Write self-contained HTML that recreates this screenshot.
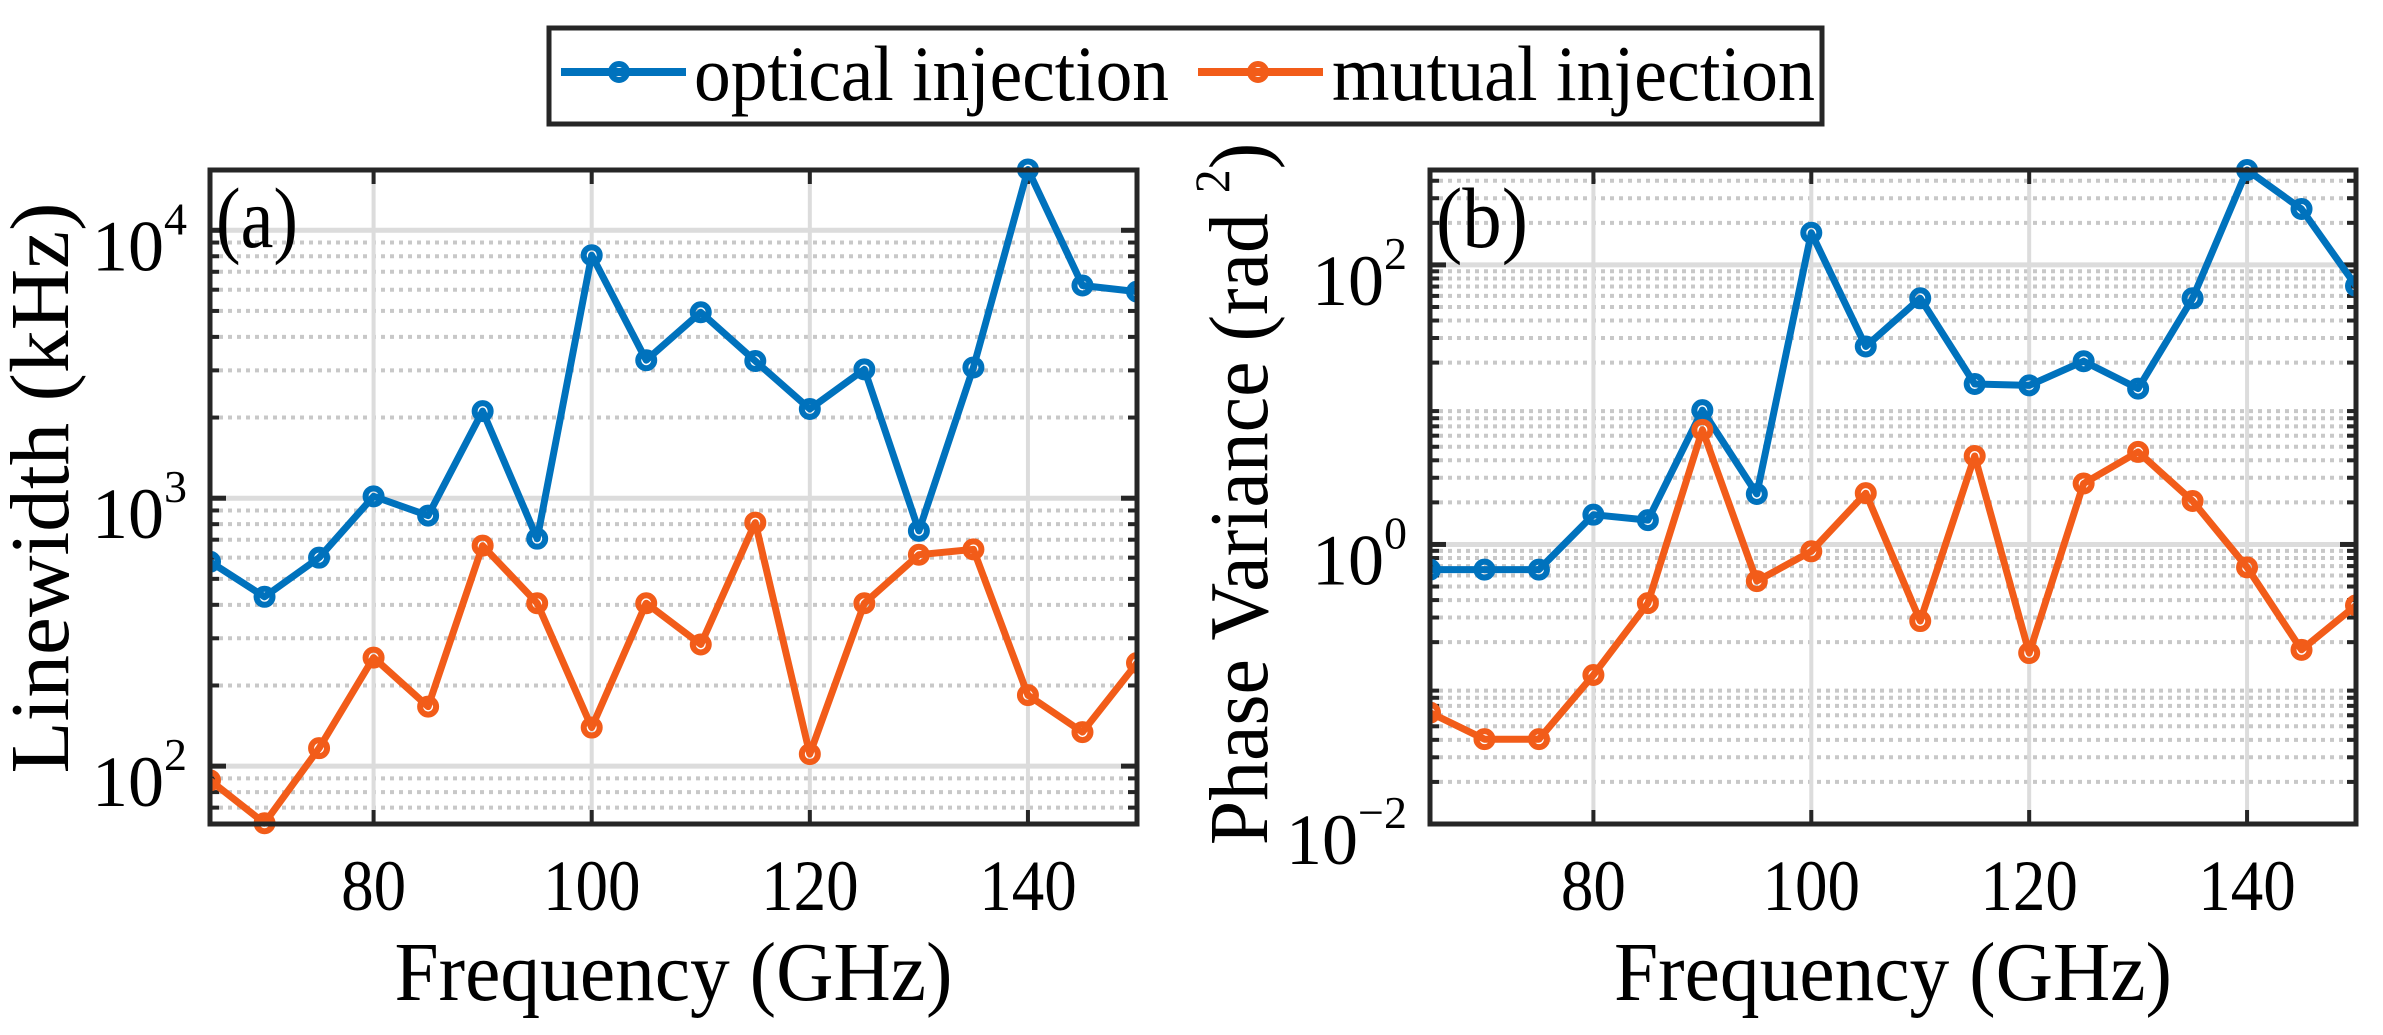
<!DOCTYPE html>
<html><head><meta charset="utf-8"><style>
html,body{margin:0;padding:0;background:#fff;}
svg{display:block;font-family:"Liberation Serif","Times New Roman",serif;}
</style></head><body>
<svg id="fig" width="2383" height="1035" viewBox="0 0 2383 1035" xmlns="http://www.w3.org/2000/svg">
  <g id="legend">
    <rect x="549" y="28" width="1273" height="96" fill="#fff" stroke="#262626" stroke-width="5"/>
    <g>
      <line x1="561" y1="72" x2="686" y2="72" stroke="#0072BD" stroke-width="8"/>
      <circle cx="619" cy="72" r="8" fill="none" stroke="#0072BD" stroke-width="6"/>
      <text x="694" y="100" font-size="78" textLength="475" lengthAdjust="spacingAndGlyphs" fill="#000">optical injection</text>
    </g>
    <g>
      <line x1="1198" y1="72" x2="1323" y2="72" stroke="#F25C19" stroke-width="8"/>
      <circle cx="1258" cy="72" r="8" fill="none" stroke="#F25C19" stroke-width="6"/>
      <text x="1332" y="100" font-size="78" textLength="483" lengthAdjust="spacingAndGlyphs" fill="#000">mutual injection</text>
    </g>
  </g>
  <g id="pa"></g>
  <g id="pb"></g>
</svg>
<script>
const freqs = [65,70,75,80,85,90,95,100,105,110,115,120,125,130,135,140,145,150];
const xTicks = [80,100,120,140];
// panel a: log10 of linewidth (kHz)
const linewidthOptical = [2.763,2.632,2.778,3.007,2.935,3.325,2.849,3.907,3.515,3.694,3.512,3.333,3.481,2.878,3.488,4.227,3.794,3.771];
const linewidthMutual = [1.947,1.787,2.067,2.405,2.222,2.823,2.608,2.144,2.608,2.454,2.909,2.045,2.608,2.789,2.809,2.265,2.127,2.385];
const yTicksA = [2,3,4];
// panel b: log10 of phase variance (rad^2)
const phaseOptical = [-0.18,-0.18,-0.18,0.213,0.174,0.961,0.361,2.23,1.416,1.761,1.148,1.138,1.311,1.115,1.761,2.679,2.4,1.85];
const phaseMutual = [-1.203,-1.393,-1.393,-0.934,-0.42,0.82,-0.262,-0.049,0.367,-0.548,0.633,-0.777,0.436,0.662,0.311,-0.164,-0.754,-0.436];
const yTicksB = [-2,0,2];

const NS = "http://www.w3.org/2000/svg";
function mk(tag, attrs, parent){
  const e = document.createElementNS(NS, tag);
  for (const k in attrs) e.setAttribute(k, attrs[k]);
  parent.appendChild(e);
  return e;
}
function panel(g, cfg){
  const {L,R,T,B,x0,x1,y0,y1} = cfg;
  const sx = v => L + (v - x0) / (x1 - x0) * (R - L);
  const sy = v => B - (v - y0) / (y1 - y0) * (B - T);
  for (let d = Math.floor(y0); d < y1; d++) {
    for (let m = 2; m <= 9; m++) {
      const lv = d + Math.log10(m);
      if (lv <= y0 || lv >= y1) continue;
      const y = sy(lv);
      const ln = mk('line', {x1:L, x2:R, y1:y, y2:y, stroke:'#c8c8c8', 'stroke-width':4, 'stroke-dasharray':'4 5'}, g);
      
      
      const t1 = mk('line', {x1:L, x2:L+9, y1:y, y2:y, stroke:'#262626', 'stroke-width':4}, g);
      
      
      const t2 = mk('line', {x1:R-9, x2:R, y1:y, y2:y, stroke:'#262626', 'stroke-width':4}, g);
      
      
    }
  }
  cfg.yTicks.forEach(v => {
    const y = sy(v);
    const ln = mk('line', {x1:L, x2:R, y1:y, y2:y, stroke:'#dcdcdc', 'stroke-width':5}, g);
    
    
    const t1 = mk('line', {x1:L, x2:L+16, y1:y, y2:y, stroke:'#262626', 'stroke-width':5}, g);
    
    
    const t2 = mk('line', {x1:R-16, x2:R, y1:y, y2:y, stroke:'#262626', 'stroke-width':5}, g);
    
    
    const tx = mk('text', {x:L-23, y:y+40, 'font-size':72, 'text-anchor':'end', fill:'#000'}, g);
    
    
    const a = mk('tspan', {}, tx); a.textContent = '10';
    const b = mk('tspan', {dy:-36, 'font-size':46}, tx); b.textContent = (v < 0 ? '\u2212' + (-v) : String(v));
  });
  xTicks.forEach(v => {
    const x = sx(v);
    const ln = mk('line', {x1:x, x2:x, y1:T, y2:B, stroke:'#dcdcdc', 'stroke-width':4}, g);
    
    
    const t1 = mk('line', {x1:x, x2:x, y1:B-14, y2:B, stroke:'#262626', 'stroke-width':4}, g);
    
    
    const t2 = mk('line', {x1:x, x2:x, y1:T, y2:T+14, stroke:'#262626', 'stroke-width':4}, g);
    
    
    const s = String(v);
    const tx = mk('text', {x:x, y:910, 'font-size':72, 'text-anchor':'middle', fill:'#000', textLength:s.length*32.5, lengthAdjust:'spacingAndGlyphs'}, g);
    
    
    tx.textContent = s;
  });
  const clip = 'clip' + cfg.id;
  const cp = mk('clipPath', {id:clip}, g);
  mk('rect', {x:L, y:T-14, width:R-L, height:B-T+28}, cp);
  cfg.series.forEach(s => {
    const sg = mk('g', {'clip-path':'url(#'+clip+')'}, g);
    
    
    const pts = freqs.map((f,i) => sx(f).toFixed(1) + ',' + sy(s.vals[i]).toFixed(1)).join(' ');
    const pl = mk('polyline', {points:pts, fill:'none', stroke:s.color, 'stroke-width':7, 'stroke-linejoin':'round'}, sg);
    
    
    freqs.forEach((f,i) => {
      const c = mk('circle', {cx:sx(f), cy:sy(s.vals[i]), r:8, fill:'none', stroke:s.color, 'stroke-width':6}, sg);
      
      
    });
  });
  const fr = mk('rect', {x:L, y:T, width:R-L, height:B-T, fill:'none', stroke:'#262626', 'stroke-width':5}, g);
  
  
  const pt = mk('text', {x:L+6, y:T+77, 'font-size':86, fill:'#000', textLength:cfg.letterW, lengthAdjust:'spacingAndGlyphs'}, g);
  
  
  pt.textContent = cfg.letter;
  const xl = mk('text', {x:(L+R)/2, y:1000, 'font-size':84, 'text-anchor':'middle', fill:'#000', textLength:558, lengthAdjust:'spacingAndGlyphs'}, g);
  
  
  xl.textContent = 'Frequency (GHz)';
  const yl = mk('text', {x:0, y:0, 'font-size':84, 'text-anchor':'middle', fill:'#000', transform:'translate('+cfg.ylX+','+cfg.ylY+') rotate(-90) scale('+(cfg.ylScale||1)+',1)'}, g);
  
  
  if (cfg.ySup) {
    const a = mk('tspan', {}, yl); a.textContent = cfg.ylabel;
    const b = mk('tspan', {dy:-38, 'font-size':50}, yl); b.textContent = cfg.ySup;
    const c = mk('tspan', {dy:38}, yl); c.textContent = ')';
  } else {
    yl.textContent = cfg.ylabel;
    yl.setAttribute('textLength', 571);
    yl.setAttribute('lengthAdjust', 'spacingAndGlyphs');
  }
}
panel(document.getElementById('pa'), {id:'a', L:210, R:1137, T:170, B:824, x0:65, x1:150, y0:1.784, y1:4.225,
  yTicks:yTicksA, letter:'(a)', letterW:82, ylabel:'Linewidth (kHz)', ylX:68, ylY:488,
  series:[{name:'optical-injection-series', vals:linewidthOptical, color:'#0072BD'},
          {name:'mutual-injection-series', vals:linewidthMutual, color:'#F25C19'}]});
panel(document.getElementById('pb'), {id:'b', L:1430, R:2356, T:170, B:824, x0:65, x1:150, y0:-2, y1:2.679,
  yTicks:yTicksB, letter:'(b)', letterW:92, ylabel:'Phase Variance (rad ', ySup:'2', ylX:1267, ylY:494, ylScale:0.95,
  series:[{name:'optical-injection-series', vals:phaseOptical, color:'#0072BD'},
          {name:'mutual-injection-series', vals:phaseMutual, color:'#F25C19'}]});
</script>
</body></html>
